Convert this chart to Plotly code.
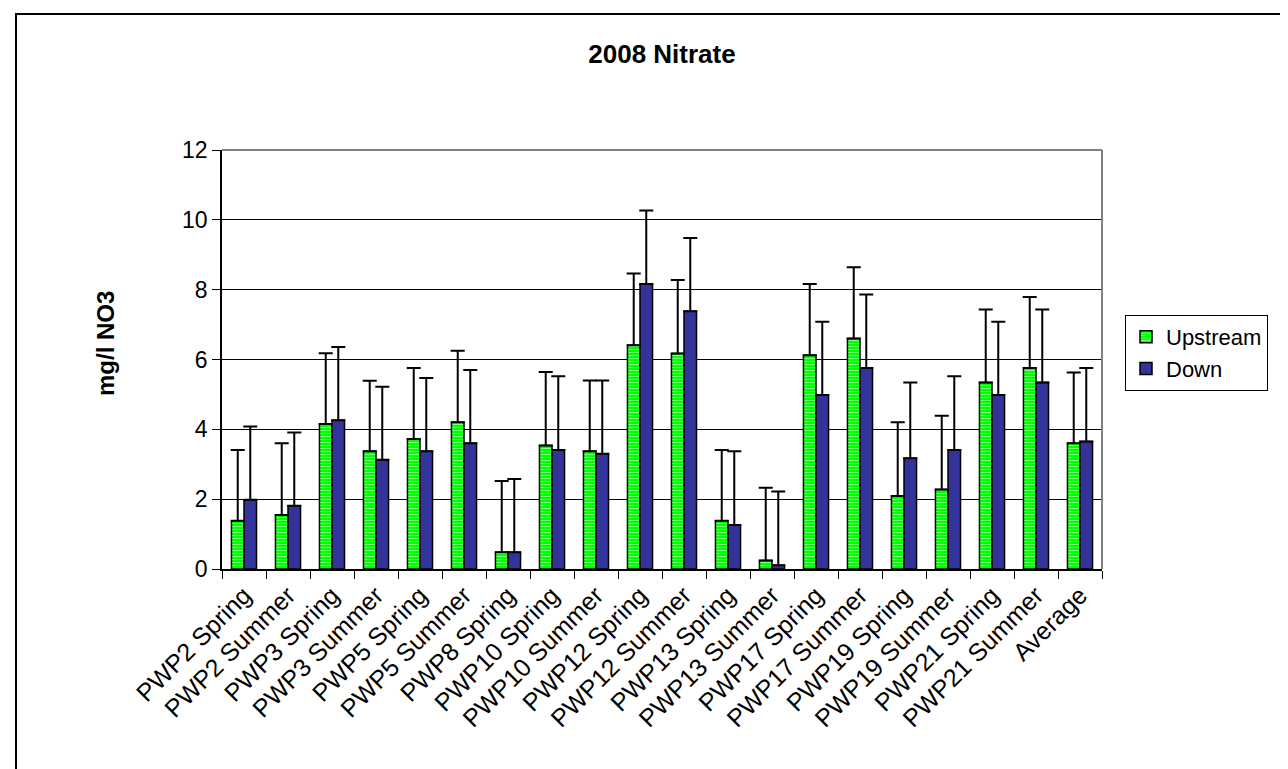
import plotly.graph_objects as go

# data
categories = ["PWP2 Spring", "PWP2 Summer", "PWP3 Spring", "PWP3 Summer", "PWP5 Spring",
              "PWP5 Summer", "PWP8 Spring", "PWP10 Spring", "PWP10 Summer", "PWP12 Spring",
              "PWP12 Summer", "PWP13 Spring", "PWP13 Summer", "PWP17 Spring", "PWP17 Summer",
              "PWP19 Spring", "PWP19 Summer", "PWP21 Spring", "PWP21 Summer", "Average"]
upstream = [1.38, 1.55, 4.15, 3.37, 3.72, 4.20, 0.48, 3.54, 3.37, 6.41,
            6.17, 1.38, 0.24, 6.12, 6.60, 2.09, 2.28, 5.34, 5.76, 3.60]
upstream_err = [2.03, 2.05, 2.03, 2.02, 2.04, 2.05, 2.04, 2.10, 2.03, 2.05,
                2.11, 2.03, 2.09, 2.04, 2.04, 2.11, 2.11, 2.09, 2.03, 2.03]
down = [1.98, 1.81, 4.26, 3.13, 3.37, 3.60, 0.48, 3.41, 3.30, 8.16,
        7.38, 1.26, 0.11, 4.98, 5.76, 3.17, 3.41, 4.98, 5.34, 3.65]
down_err = [2.10, 2.10, 2.10, 2.09, 2.10, 2.10, 2.10, 2.11, 2.10, 2.11,
            2.10, 2.11, 2.11, 2.10, 2.10, 2.17, 2.11, 2.10, 2.09, 2.11]
y_ticks = [0, 2, 4, 6, 8, 10, 12]

# pixel layout of the plot area
L, R, T, B = 214, 1094, 142, 561
W, H = 1288, 769
pw, ph = R - L, B - T

fig = go.Figure()
fig.add_trace(go.Bar(
    x=categories, y=upstream, name="Upstream",
    marker=dict(color="#00ff00", line=dict(color="black", width=1.5),
                pattern=dict(shape="-", fgcolor="white", bgcolor="#00ff00", size=3, solidity=0.35)),
    error_y=dict(type="data", array=upstream_err, arrayminus=[0] * len(upstream),
                 symmetric=False, color="black", thickness=2, width=7),
))
fig.add_trace(go.Bar(
    x=categories, y=down, name="Down",
    marker=dict(color="#333399", line=dict(color="black", width=1.5)),
    error_y=dict(type="data", array=down_err, arrayminus=[0] * len(down),
                 symmetric=False, color="black", thickness=2, width=7),
))

# outer chart frame
fig.add_shape(type="rect", xref="paper", yref="paper",
              x0=(8 - L) / pw, x1=(1282 - L) / pw,
              y0=(B - 800) / ph, y1=(B - 6) / ph,
              line=dict(color="black", width=2), layer="below")
# grey plot border top/right
fig.add_shape(type="line", xref="paper", yref="paper", x0=0, x1=1, y0=1, y1=1,
              line=dict(color="#808080", width=2))
fig.add_shape(type="line", xref="paper", yref="paper", x0=1, x1=1, y0=0, y1=1,
              line=dict(color="#808080", width=2))

# y axis title
fig.add_annotation(text="<b>mg/l NO3</b>", xref="paper", yref="paper",
                   x=(97 - L) / pw, y=(B - 335) / ph, xanchor="center", yanchor="middle",
                   textangle=-90, showarrow=False, font=dict(size=24))

fig.update_layout(
    width=W, height=H,
    margin=dict(l=L, r=W - R, t=T, b=H - B, autoexpand=False),
    paper_bgcolor="white", plot_bgcolor="white",
    font=dict(family="Arial, Liberation Sans, sans-serif", color="black", size=20),
    title=dict(text="<b>2008 Nitrate</b>", x=654 / W, xanchor="center",
               y=1 - 46 / H, yanchor="middle", font=dict(size=26)),
    barmode="group", bargap=0.43, bargroupgap=0,
    showlegend=True,
    legend=dict(x=(1117 - L) / pw, y=(B - 307) / ph, xanchor="left", yanchor="top",
                bordercolor="black", borderwidth=1, bgcolor="white",
                font=dict(size=22), tracegroupgap=4, itemwidth=30),
)
fig.update_xaxes(
    type="category", tickangle=-45, tickson="boundaries",
    ticks="outside", ticklen=8, tickcolor="black", tickwidth=1,
    showline=True, linecolor="black", linewidth=1.5,
    showgrid=False, tickfont=dict(size=25),
)
fig.update_yaxes(
    range=[0, 12], tickvals=y_ticks, ticks="outside", ticklen=8, tickcolor="black",
    showline=True, linecolor="black", linewidth=1.5,
    showgrid=True, gridcolor="black", gridwidth=1, zeroline=False,
    tickfont=dict(size=23),
)

fig.write_html("out.html")
